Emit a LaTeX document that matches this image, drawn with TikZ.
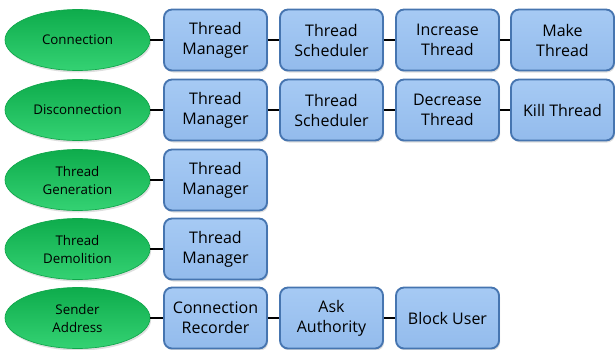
\documentclass[tikz,border=0pt]{standalone}
\usepackage{fontspec}
\setmainfont{Open Sans}
\usetikzlibrary{shapes.geometric,shadows}
\definecolor{ovaltop}{HTML}{0EAC4C}
\definecolor{ovalmid}{HTML}{1CC15C}
\definecolor{ovalbot}{HTML}{34D273}
\definecolor{ovaledge}{HTML}{10A64B}
\definecolor{boxtop}{HTML}{A6CAF4}
\definecolor{boxbot}{HTML}{93BBEC}
\definecolor{boxedge}{HTML}{4675B0}
\tikzset{
  oval/.style={ellipse, minimum width=145*0.75pt, minimum height=61*0.75pt,
    inner sep=0pt, draw=ovaledge, line width=0.5pt,
    top color=ovaltop, middle color=ovalmid, bottom color=ovalbot,
    drop shadow={shadow xshift=0.8pt, shadow yshift=-1.5pt, opacity=0.25},
    font=\fontsize{10}{13.5}\selectfont, align=center, text=black},
  task/.style={rectangle, rounded corners=6pt, minimum width=103*0.75pt,
    minimum height=61*0.75pt, inner sep=0pt, draw=boxedge, line width=1.4pt,
    top color=boxtop, bottom color=boxbot,
    drop shadow={shadow xshift=0.8pt, shadow yshift=-1.5pt, opacity=0.25},
    font=\fontsize{12}{15}\selectfont, align=center, text=black},
  link/.style={draw=black, line width=2.2pt}
}
\begin{document}
\begin{tikzpicture}[x=0.75pt, y=-0.75pt]
\useasboundingbox (0,0) rectangle (615,350);

% row 1
\node[oval] (c0) at (77.5,40) {Connection};
\node[task] (c1) at (215.5,40) {Thread\\Manager};
\node[task] (c2) at (331.5,40) {Thread\\Scheduler};
\node[task] (c3) at (447.5,40) {Increase\\Thread};
\node[task] (c4) at (562.5,40) {Make\\Thread};

% row 2
\node[oval] (d0) at (77.5,110) {Disconnection};
\node[task] (d1) at (215.5,110) {Thread\\Manager};
\node[task] (d2) at (331.5,110) {Thread\\Scheduler};
\node[task] (d3) at (447.5,110) {Decrease\\Thread};
\node[task] (d4) at (562.5,110) {Kill Thread};

% row 3
\node[oval] (g0) at (77.5,180) {Thread\\Generation};
\node[task] (g1) at (215.5,180) {Thread\\Manager};

% row 4
\node[oval] (m0) at (77.5,249) {Thread\\Demolition};
\node[task] (m1) at (215.5,249) {Thread\\Manager};

% row 5
\node[oval] (s0) at (77.5,318) {Sender\\Address};
\node[task] (s1) at (215.5,318) {Connection\\Recorder};
\node[task] (s2) at (331.5,318) {Ask\\Authority};
\node[task] (s3) at (447.5,318) {Block User};

% connectors
\draw[link] (c0) -- (c1); \draw[link] (c1) -- (c2);
\draw[link] (c2) -- (c3); \draw[link] (c3) -- (c4);
\draw[link] (d0) -- (d1); \draw[link] (d1) -- (d2);
\draw[link] (d2) -- (d3); \draw[link] (d3) -- (d4);
\draw[link] (g0) -- (g1);
\draw[link] (m0) -- (m1);
\draw[link] (s0) -- (s1); \draw[link] (s1) -- (s2);
\draw[link] (s2) -- (s3);
\end{tikzpicture}
\end{document}
